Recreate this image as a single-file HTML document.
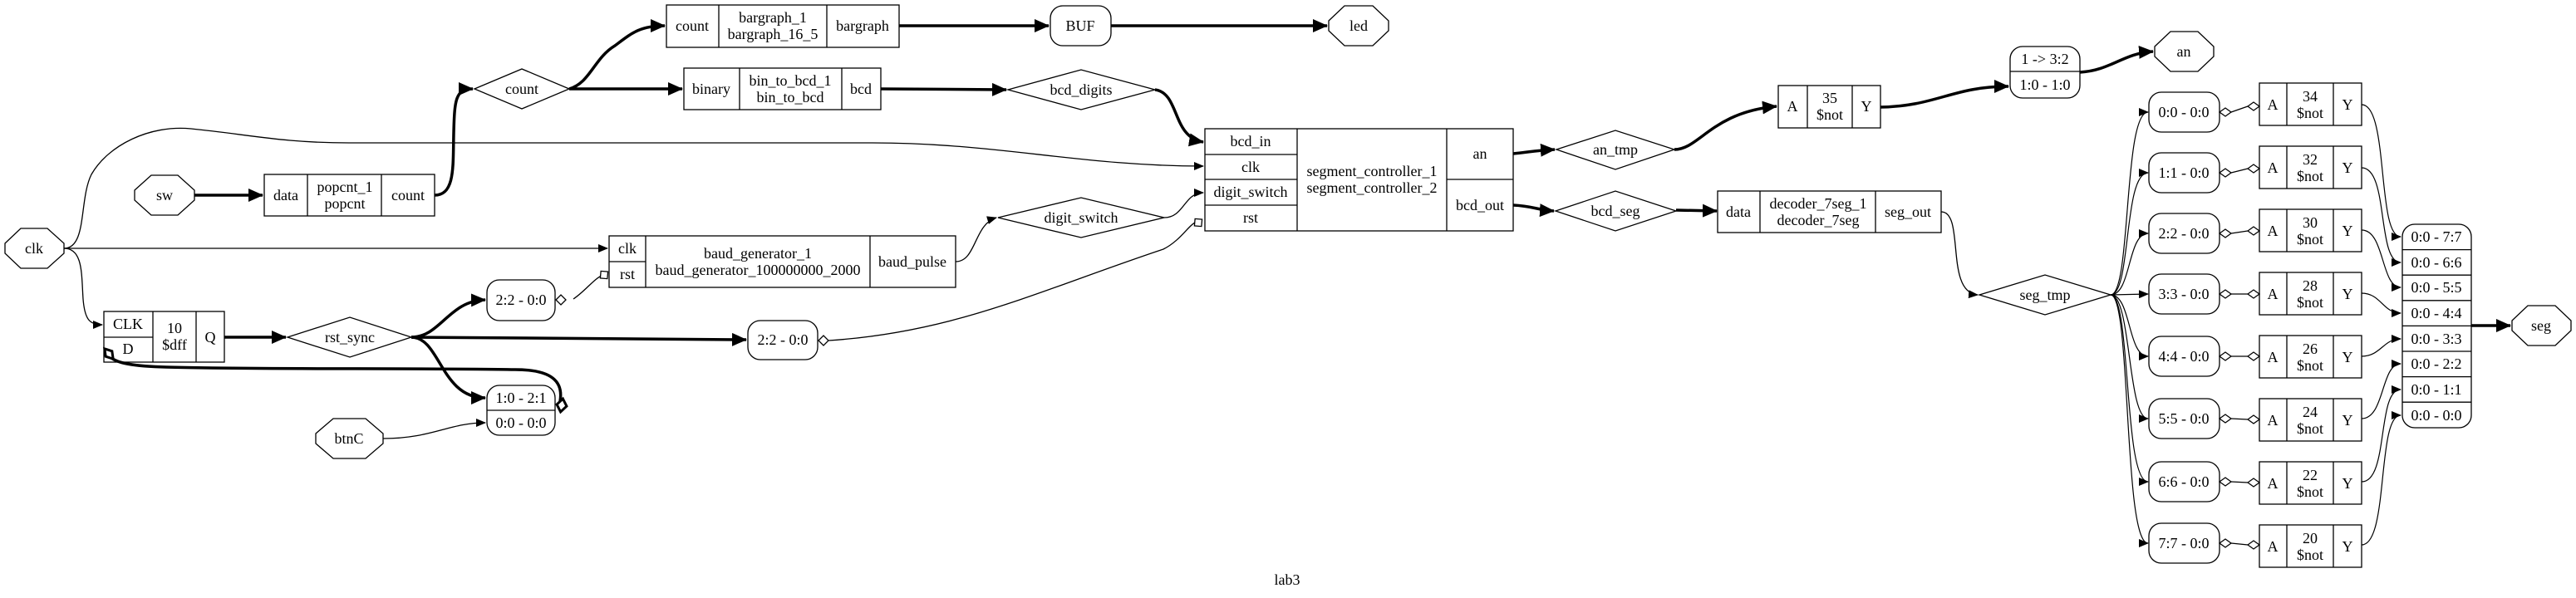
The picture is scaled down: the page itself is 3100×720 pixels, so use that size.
<!DOCTYPE html>
<html><head><meta charset="utf-8"><style>
html,body{margin:0;padding:0;background:#fff;}
svg{display:block;}
text{font-family:"Liberation Serif",serif;font-size:18px;fill:#000;}
</style></head><body>
<svg width="3100" height="720" viewBox="0 0 3100 720" xmlns="http://www.w3.org/2000/svg">
<defs>
<marker id="t" markerUnits="userSpaceOnUse" markerWidth="12" markerHeight="10" refX="11" refY="5" orient="auto"><path d="M0,0 L12,5 L0,10 Z" fill="#000"/></marker>
<marker id="b" markerUnits="userSpaceOnUse" markerWidth="18" markerHeight="16" refX="17" refY="8" orient="auto"><path d="M0,0 L18,8 L0,16 Z" fill="#000"/></marker>
</defs>
<g fill="none" stroke="#000" stroke-width="1.3">
<rect x="802" y="6" width="280" height="51"/><line x1="865" y1="6" x2="865" y2="57"/><line x1="995" y1="6" x2="995" y2="57"/>
<rect x="823" y="82" width="237" height="50"/><line x1="890" y1="82" x2="890" y2="132"/><line x1="1013" y1="82" x2="1013" y2="132"/>
<polygon points="571,107 628,83 685,107 628,131"/>
<polygon points="162,229 182,211 214,211 234,229 234,241 214,259 182,259 162,241"/>
<rect x="318" y="210" width="205" height="50"/><line x1="370" y1="210" x2="370" y2="260"/><line x1="459" y1="210" x2="459" y2="260"/>
<polygon points="6,293 25,275 57,275 77,293 77,305 57,323 25,323 6,305"/>
<rect x="733" y="284" width="417" height="62"/><line x1="777" y1="284" x2="777" y2="346"/><line x1="1047" y1="284" x2="1047" y2="346"/><line x1="733" y1="315" x2="777" y2="315"/>
<rect x="125" y="375" width="145" height="61"/><line x1="184" y1="375" x2="184" y2="436"/><line x1="236" y1="375" x2="236" y2="436"/><line x1="125" y1="406" x2="184" y2="406"/>
<polygon points="346,406 421,382 495,406 421,430"/>
<rect x="586" y="337" width="82" height="49" rx="15"/>
<rect x="900" y="386" width="84" height="47" rx="15"/>
<rect x="586" y="464" width="82" height="60" rx="15"/><line x1="586" y1="494" x2="668" y2="494"/>
<polygon points="380,522 401,504 440,504 461,522 461,534 440,552 401,552 380,534"/>
<rect x="1264" y="7" width="73" height="48" rx="15"/>
<polygon points="1599,25 1618,7 1652,7 1671,25 1671,37 1652,55 1618,55 1599,37"/>
<polygon points="1213,108 1301,84 1390,108 1301,132"/>
<rect x="1450" y="155" width="371" height="123"/><line x1="1561" y1="155" x2="1561" y2="278"/><line x1="1741" y1="155" x2="1741" y2="278"/>
<line x1="1450" y1="186" x2="1561" y2="186"/><line x1="1450" y1="216" x2="1561" y2="216"/><line x1="1450" y1="247" x2="1561" y2="247"/><line x1="1741" y1="216" x2="1821" y2="216"/>
<polygon points="1201,262 1301,238 1401,262 1301,286"/>
<polygon points="1873,180 1944,157 2015,180 1944,204"/>
<polygon points="1872,254 1944,230 2017,254 1944,278"/>
<rect x="2067" y="230" width="269" height="50"/><line x1="2118" y1="230" x2="2118" y2="280"/><line x1="2257" y1="230" x2="2257" y2="280"/>
<rect x="2140" y="103" width="123" height="51"/><line x1="2175" y1="103" x2="2175" y2="154"/><line x1="2229" y1="103" x2="2229" y2="154"/>
<rect x="2419" y="56" width="84" height="62" rx="15"/><line x1="2419" y1="86" x2="2503" y2="86"/>
<polygon points="2593,56 2612,38 2645,38 2664,56 2664,68 2645,86 2612,86 2593,68"/>
<polygon points="2382,355 2461,331 2540,355 2461,379"/>
<rect x="2891" y="270" width="83" height="245" rx="15"/>
<line x1="2891" y1="300.6" x2="2974" y2="300.6"/><line x1="2891" y1="331.2" x2="2974" y2="331.2"/><line x1="2891" y1="361.8" x2="2974" y2="361.8"/><line x1="2891" y1="392.4" x2="2974" y2="392.4"/><line x1="2891" y1="423" x2="2974" y2="423"/><line x1="2891" y1="453.6" x2="2974" y2="453.6"/><line x1="2891" y1="484.2" x2="2974" y2="484.2"/>
<polygon points="3023,386 3042,368 3075,368 3094,386 3094,398 3075,416 3042,416 3023,398"/>

<path d="M77,299 L731,299" marker-end="url(#t)"/>
<path d="M77,299 C100,299 98,330 100,360 C102,385 108,391 123,391" marker-end="url(#t)"/>
<path d="M77,299 C105,299 95,240 110,210 C130,175 180,150 230,155 C300,162 340,172 420,172 L1050,172 C1200,172 1300,200 1448,200" marker-end="url(#t)"/>
<path d="M1150,315 C1175,315 1172,270 1199,262" marker-end="url(#t)"/>
<path d="M1401,262 C1425,262 1425,232 1448,232" marker-end="url(#t)"/>
<path d="M461,528 C520,528 540,509 584,509" marker-end="url(#t)"/>
<path d="M2336,255 C2365,255 2340,352 2380,355" marker-end="url(#t)"/>
<path d="M690,360 C705,350 715,335 726,331"/>
<path d="M997,410 C1150,400 1250,350 1400,300 C1420,290 1430,272 1438,268"/>
</g>
<g fill="none" stroke="#000" stroke-width="1.2">
<path d="M2540,355 C2565,355 2555,135 2585,135" marker-end="url(#t)"/>
<path d="M2540,355 C2565,355 2555,208 2585,208" marker-end="url(#t)"/>
<path d="M2540,355 C2565,355 2560,281 2585,281" marker-end="url(#t)"/>
<path d="M2540,355 L2585,354" marker-end="url(#t)"/>
<path d="M2540,355 C2565,355 2560,429 2585,429" marker-end="url(#t)"/>
<path d="M2540,355 C2565,355 2560,504 2585,504" marker-end="url(#t)"/>
<path d="M2540,355 C2565,355 2555,580 2585,580" marker-end="url(#t)"/>
<path d="M2540,355 C2565,355 2555,654 2585,654" marker-end="url(#t)"/>
<path d="M2842,126 C2875,126 2860,285 2889,285" marker-end="url(#t)"/>
<path d="M2842,202 C2875,202 2860,316 2889,316" marker-end="url(#t)"/>
<path d="M2842,277 C2870,277 2865,346 2889,346" marker-end="url(#t)"/>
<path d="M2842,353 C2865,353 2868,377 2889,377" marker-end="url(#t)"/>
<path d="M2842,429 C2865,429 2868,408 2889,408" marker-end="url(#t)"/>
<path d="M2842,504 C2870,504 2865,438 2889,438" marker-end="url(#t)"/>
<path d="M2842,580 C2875,580 2860,469 2889,469" marker-end="url(#t)"/>
<path d="M2842,656 C2875,656 2860,500 2889,500" marker-end="url(#t)"/>
</g>
<g fill="none" stroke="#000" stroke-width="3.5">
<path d="M234,235 L316,235" marker-end="url(#b)"/>
<path d="M523,235 C548,235 545,200 546,160 C547,120 548,107 569,107" marker-end="url(#b)"/>
<path d="M685,107 C710,100 715,70 740,55 C760,40 770,31 800,31" marker-end="url(#b)"/>
<path d="M685,107 L821,107" marker-end="url(#b)"/>
<path d="M1082,31 L1262,31" marker-end="url(#b)"/>
<path d="M1337,31 L1597,31" marker-end="url(#b)"/>
<path d="M1060,107 L1211,108" marker-end="url(#b)"/>
<path d="M1390,108 C1420,112 1410,165 1448,171" marker-end="url(#b)"/>
<path d="M270,406 L344,406" marker-end="url(#b)"/>
<path d="M495,406 C530,406 540,362 584,361" marker-end="url(#b)"/>
<path d="M495,406 L898,409" marker-end="url(#b)"/>
<path d="M495,406 C530,406 530,479 584,479" marker-end="url(#b)"/>
<path d="M1821,185 C1840,183 1850,181 1871,180" marker-end="url(#b)"/>
<path d="M1821,247 C1845,248 1850,253 1870,254" marker-end="url(#b)"/>
<path d="M2017,253 L2066,254" marker-end="url(#b)"/>
<path d="M2015,180 C2045,180 2060,135 2138,128" marker-end="url(#b)"/>
<path d="M2263,129 C2330,128 2350,104 2417,104" marker-end="url(#b)"/>
<path d="M2503,87 C2540,85 2555,64 2591,62" marker-end="url(#b)"/>
<path d="M2974,392 L3021,392" marker-end="url(#b)"/>
<path d="M674,483 C678,460 665,445 620,445 C500,443 300,445 200,442 C160,441 140,437 133,430"/>
</g>
<g fill="#fff" stroke="#000" stroke-width="1.3">
<polygon points="669,361 675,355 681,361 675,367"/>
<polygon points="721,331 727,325 733,331 727,337" transform="rotate(-40 727 331)"/>
<polygon points="985,410 991,404 997,410 991,416"/>
<polygon points="1436,268 1442,262 1448,268 1442,274" transform="rotate(-40 1442 268)"/>
</g>
<g fill="#fff" stroke="#000" stroke-width="3">
<polygon points="670,488 676,480 682,488 676,496" transform="rotate(10 676 488)"/>
<polygon points="126,426 131,418 136,426 131,434" transform="rotate(-40 131 426)"/>
</g>
<g fill="#fff" stroke="#000" stroke-width="1.3">
<g><polygon points="2671,135 2678,130 2685,135 2678,140"/><line x1="2685" y1="135" x2="2705" y2="128"/><polygon points="2705,128 2712,123 2719,128 2712,133"/></g>
<g><polygon points="2671,208 2678,203 2685,208 2678,213"/><line x1="2685" y1="208" x2="2705" y2="203"/><polygon points="2705,203 2712,198 2719,203 2712,208"/></g>
<g><polygon points="2671,281 2678,276 2685,281 2678,286"/><line x1="2685" y1="281" x2="2705" y2="278"/><polygon points="2705,278 2712,273 2719,278 2712,283"/></g>
<g><polygon points="2671,354 2678,349 2685,354 2678,359"/><line x1="2685" y1="354" x2="2705" y2="354"/><polygon points="2705,354 2712,349 2719,354 2712,359"/></g>
<g><polygon points="2671,429 2678,424 2685,429 2678,434"/><line x1="2685" y1="429" x2="2705" y2="429"/><polygon points="2705,429 2712,424 2719,429 2712,434"/></g>
<g><polygon points="2671,504 2678,499 2685,504 2678,509"/><line x1="2685" y1="504" x2="2705" y2="505"/><polygon points="2705,505 2712,500 2719,505 2712,510"/></g>
<g><polygon points="2671,580 2678,575 2685,580 2678,585"/><line x1="2685" y1="580" x2="2705" y2="581"/><polygon points="2705,581 2712,576 2719,581 2712,586"/></g>
<g><polygon points="2671,654 2678,649 2685,654 2678,659"/><line x1="2685" y1="654" x2="2705" y2="656"/><polygon points="2705,656 2712,651 2719,656 2712,661"/></g>
</g>
<g fill="none" stroke="#000" stroke-width="1.3">
<rect x="2719" y="100" width="123" height="51"/><line x1="2752" y1="100" x2="2752" y2="151"/><line x1="2808" y1="100" x2="2808" y2="151"/>
<rect x="2719" y="176" width="123" height="51"/><line x1="2752" y1="176" x2="2752" y2="227"/><line x1="2808" y1="176" x2="2808" y2="227"/>
<rect x="2719" y="252" width="123" height="51"/><line x1="2752" y1="252" x2="2752" y2="303"/><line x1="2808" y1="252" x2="2808" y2="303"/>
<rect x="2719" y="328" width="123" height="51"/><line x1="2752" y1="328" x2="2752" y2="379"/><line x1="2808" y1="328" x2="2808" y2="379"/>
<rect x="2719" y="404" width="123" height="51"/><line x1="2752" y1="404" x2="2752" y2="455"/><line x1="2808" y1="404" x2="2808" y2="455"/>
<rect x="2719" y="480" width="123" height="51"/><line x1="2752" y1="480" x2="2752" y2="531"/><line x1="2808" y1="480" x2="2808" y2="531"/>
<rect x="2719" y="556" width="123" height="51"/><line x1="2752" y1="556" x2="2752" y2="607"/><line x1="2808" y1="556" x2="2808" y2="607"/>
<rect x="2719" y="632" width="123" height="51"/><line x1="2752" y1="632" x2="2752" y2="683"/><line x1="2808" y1="632" x2="2808" y2="683"/>
<rect x="2586" y="111" width="85" height="48" rx="15"/>
<rect x="2586" y="184" width="85" height="48" rx="15"/>
<rect x="2586" y="257" width="85" height="48" rx="15"/>
<rect x="2586" y="330" width="85" height="48" rx="15"/>
<rect x="2586" y="405" width="85" height="48" rx="15"/>
<rect x="2586" y="480" width="85" height="48" rx="15"/>
<rect x="2586" y="556" width="85" height="48" rx="15"/>
<rect x="2586" y="630" width="85" height="48" rx="15"/>
</g>
<g text-anchor="middle" dominant-baseline="central">
<text x="833" y="31">count</text><text x="930" y="21">bargraph_1</text><text x="930" y="41">bargraph_16_5</text><text x="1038" y="31">bargraph</text>
<text x="856" y="107">binary</text><text x="951" y="97">bin_to_bcd_1</text><text x="951" y="117">bin_to_bcd</text><text x="1036" y="107">bcd</text>
<text x="628" y="107">count</text>
<text x="198" y="235">sw</text>
<text x="344" y="235">data</text><text x="415" y="225">popcnt_1</text><text x="415" y="245">popcnt</text><text x="491" y="235">count</text>
<text x="41" y="299">clk</text>
<text x="755" y="299">clk</text><text x="755" y="330">rst</text><text x="912" y="305">baud_generator_1</text><text x="912" y="325">baud_generator_100000000_2000</text><text x="1098" y="315">baud_pulse</text>
<text x="154" y="390">CLK</text><text x="154" y="420">D</text><text x="210" y="395">10</text><text x="210" y="415">$dff</text><text x="253" y="406">Q</text>
<text x="421" y="406">rst_sync</text>
<text x="627" y="361">2:2 - 0:0</text>
<text x="942" y="409">2:2 - 0:0</text>
<text x="627" y="479">1:0 - 2:1</text><text x="627" y="509">0:0 - 0:0</text>
<text x="420" y="528">btnC</text>
<text x="1300" y="31">BUF</text>
<text x="1635" y="31">led</text>
<text x="1301" y="108">bcd_digits</text>
<text x="1505" y="170">bcd_in</text><text x="1505" y="201">clk</text><text x="1505" y="231">digit_switch</text><text x="1505" y="262">rst</text>
<text x="1651" y="206">segment_controller_1</text><text x="1651" y="226">segment_controller_2</text>
<text x="1781" y="185">an</text><text x="1781" y="247">bcd_out</text>
<text x="1301" y="262">digit_switch</text>
<text x="1944" y="180">an_tmp</text>
<text x="1944" y="254">bcd_seg</text>
<text x="2092" y="255">data</text><text x="2188" y="245">decoder_7seg_1</text><text x="2188" y="265">decoder_7seg</text><text x="2296" y="255">seg_out</text>
<text x="2157" y="128">A</text><text x="2202" y="118">35</text><text x="2202" y="138">$not</text><text x="2246" y="128">Y</text>
<text x="2461" y="71">1 -&gt; 3:2</text><text x="2461" y="102">1:0 - 1:0</text>
<text x="2628" y="62">an</text>
<text x="2461" y="355">seg_tmp</text>
<text x="2628" y="135">0:0 - 0:0</text><text x="2628" y="208">1:1 - 0:0</text><text x="2628" y="281">2:2 - 0:0</text><text x="2628" y="354">3:3 - 0:0</text>
<text x="2628" y="429">4:4 - 0:0</text><text x="2628" y="504">5:5 - 0:0</text><text x="2628" y="580">6:6 - 0:0</text><text x="2628" y="654">7:7 - 0:0</text>
<text x="2735" y="126">A</text><text x="2780" y="116">34</text><text x="2780" y="136">$not</text><text x="2825" y="126">Y</text>
<text x="2735" y="202">A</text><text x="2780" y="192">32</text><text x="2780" y="212">$not</text><text x="2825" y="202">Y</text>
<text x="2735" y="278">A</text><text x="2780" y="268">30</text><text x="2780" y="288">$not</text><text x="2825" y="278">Y</text>
<text x="2735" y="354">A</text><text x="2780" y="344">28</text><text x="2780" y="364">$not</text><text x="2825" y="354">Y</text>
<text x="2735" y="430">A</text><text x="2780" y="420">26</text><text x="2780" y="440">$not</text><text x="2825" y="430">Y</text>
<text x="2735" y="506">A</text><text x="2780" y="496">24</text><text x="2780" y="516">$not</text><text x="2825" y="506">Y</text>
<text x="2735" y="582">A</text><text x="2780" y="572">22</text><text x="2780" y="592">$not</text><text x="2825" y="582">Y</text>
<text x="2735" y="658">A</text><text x="2780" y="648">20</text><text x="2780" y="668">$not</text><text x="2825" y="658">Y</text>
<text x="2932" y="285">0:0 - 7:7</text><text x="2932" y="316">0:0 - 6:6</text><text x="2932" y="346">0:0 - 5:5</text><text x="2932" y="377">0:0 - 4:4</text>
<text x="2932" y="408">0:0 - 3:3</text><text x="2932" y="438">0:0 - 2:2</text><text x="2932" y="469">0:0 - 1:1</text><text x="2932" y="500">0:0 - 0:0</text>
<text x="3058" y="392">seg</text>
<text x="1549" y="698">lab3</text>
</g>
</svg>
</body></html>
